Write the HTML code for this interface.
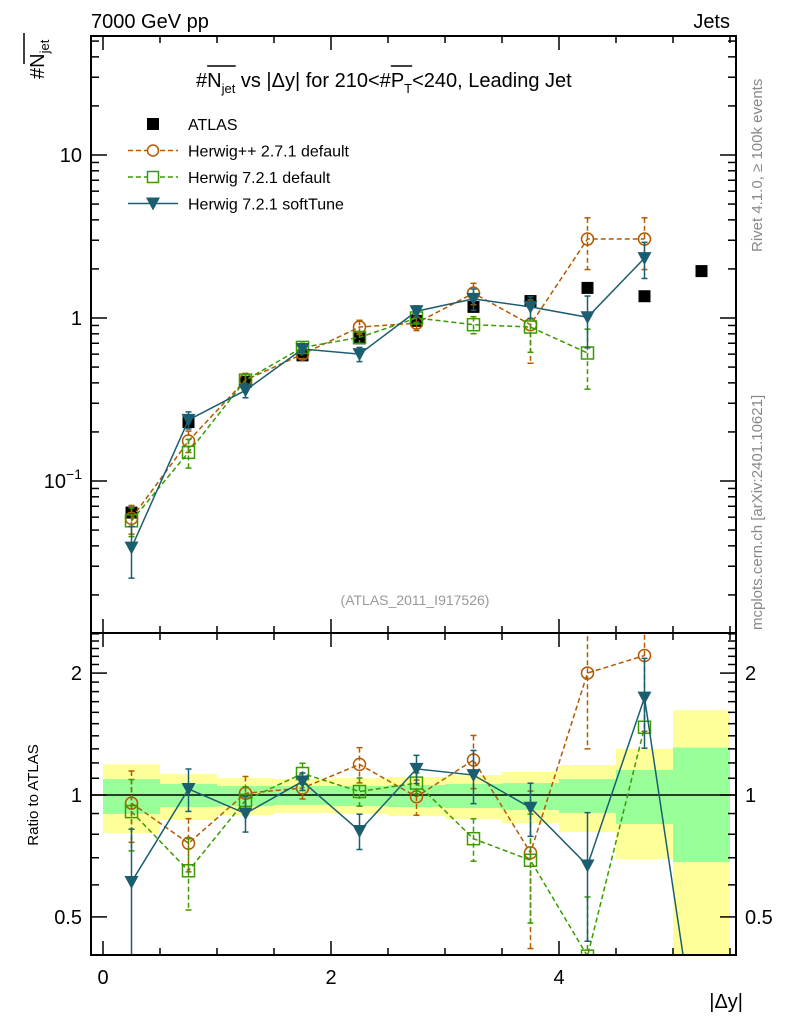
<!DOCTYPE html>
<html><head><meta charset="utf-8"><style>
html,body{margin:0;background:#fff;width:786px;height:1024px;overflow:hidden}
svg{display:block;font-family:"Liberation Sans",sans-serif}
</style></head><body>
<svg id="c" width="786" height="1024" xmlns="http://www.w3.org/2000/svg"></svg>
<script>
const xCenters=[0.25,0.75,1.25,1.75,2.25,2.75,3.25,3.75,4.25,4.75,5.25];
const atlasVals=[0.064,0.23,0.405,0.59,0.75,0.96,1.17,1.27,1.53,1.36,1.94];
const hppVals=[0.059,0.176,0.416,0.60,0.88,0.93,1.42,0.91,3.05,3.05];
const hppErr=[0.2,0.15,0.1,0.06,0.1,0.1,0.15,0.42,0.35,0.35];
const h7Vals=[0.057,0.15,0.416,0.66,0.76,1.0,0.91,0.88,0.61];
const h7Err=[0.2,0.2,0.08,0.06,0.08,0.06,0.12,0.3,0.4];
const stVals=[0.039,0.237,0.36,0.645,0.60,1.10,1.31,1.17,1.01,2.33];
const stErr=[0.35,0.12,0.1,0.05,0.1,0.08,0.15,0.15,0.35,0.25];
const hppRatio=[0.955,0.76,1.01,1.04,1.19,0.99,1.22,0.72,2.0,2.21];
const h7Ratio=[0.91,0.65,0.97,1.13,1.02,1.07,0.78,0.69,0.40,1.47];
const stRatio=[0.61,1.035,0.90,1.08,0.815,1.16,1.12,0.93,0.67,1.74,0.2];
const bandYelLo=[0.806,0.868,0.892,0.903,0.898,0.887,0.872,0.853,0.81,0.695,0.3];
const bandYelHi=[1.19,1.127,1.101,1.095,1.101,1.108,1.12,1.14,1.186,1.30,1.62];
const bandGrnLo=[0.898,0.934,0.939,0.945,0.939,0.934,0.929,0.918,0.903,0.848,0.683];
const bandGrnHi=[1.095,1.065,1.052,1.052,1.052,1.058,1.065,1.07,1.095,1.153,1.31];
const ratioTicks=["0.5","1","2"];
const xTicks=["0","2","4"];

const NS="http://www.w3.org/2000/svg";
const svg=document.getElementById('c');
const L=91,R=736,T=36,M=633,B=955;
const X=v=>103+v*114;
const Ym=v=>318-Math.log10(v)*163;
const Yr=v=>795-Math.log10(v)*405;
function mk(tag,at,parent){const e=document.createElementNS(NS,tag);for(const k in at)e.setAttribute(k,at[k]);(parent||svg).appendChild(e);return e;}
function txt(s,x,y,at,parent){const e=mk('text',Object.assign({x:x,y:y,'font-size':20},at||{}),parent);e.textContent=s;return e;}

const defs=mk('defs',{});
const c1=mk('clipPath',{id:'cm'},defs);mk('rect',{x:L,y:T,width:R-L,height:M-T},c1);
const c2=mk('clipPath',{id:'cr'},defs);mk('rect',{x:L,y:M,width:R-L,height:B-M},c2);
const gM=mk('g',{'clip-path':'url(#cm)'});
const gR=mk('g',{'clip-path':'url(#cr)'});

for(let i=0;i<xCenters.length;i++){
 const x0=X(xCenters[i]-0.25),x1=X(xCenters[i]+0.25);
 const y=mk('rect',{x:x0,y:Yr(bandYelHi[i]),width:x1-x0,height:Yr(bandYelLo[i])-Yr(bandYelHi[i]),fill:'#ffff99'},gR);
 
 const g=mk('rect',{x:x0,y:Yr(bandGrnHi[i]),width:x1-x0,height:Yr(bandGrnLo[i])-Yr(bandGrnHi[i]),fill:'#99ff99'},gR);
 
}
mk('line',{x1:L,x2:R,y1:Yr(1),y2:Yr(1),stroke:'#000','stroke-width':1.5},gR);

function series(vals,err,Y,g,color,dash,marker,name){
 const pts=vals.map((v,i)=>[X(xCenters[i]),Y(v)]);
 const pl=mk('polyline',{points:pts.map(p=>p.join(',')).join(' '),fill:'none',stroke:color,'stroke-width':1.5,'stroke-dasharray':dash},g);
 
 vals.forEach((v,i)=>{
  const x=pts[i][0],y=pts[i][1];
  if(err&&err[i]!==undefined){
   const e=err[i],yh=Y(v*(1+e)),yl=Y(v*(1-e));
   const el=mk('line',{x1:x,x2:x,y1:yh,y2:yl,stroke:color,'stroke-width':1.5,'stroke-dasharray':dash},g);
   
   mk('line',{x1:x-3,x2:x+3,y1:yh,y2:yh,stroke:color,'stroke-width':1.5},g);
   mk('line',{x1:x-3,x2:x+3,y1:yl,y2:yl,stroke:color,'stroke-width':1.5},g);
  }
  let m;
  if(marker==='o')m=mk('circle',{cx:x,cy:y,r:6,fill:'none',stroke:color,'stroke-width':1.5},g);
  else if(marker==='s')m=mk('rect',{x:x-6,y:y-6,width:12,height:12,fill:'none',stroke:color,'stroke-width':1.5},g);
  else m=mk('polygon',{points:`${x-7},${y-6} ${x+7},${y-6} ${x},${y+7}`,fill:color},g);
  
 });
}
atlasVals.forEach((v,i)=>{const r=mk('rect',{x:X(xCenters[i])-6,y:Ym(v)-6,width:12,height:12,fill:'#000'},gM);
 });
const cO='#b35a00',cG='#3a9a00',cB='#1b5e70';
series(hppVals,hppErr,Ym,gM,cO,'5,3','o','herwigpp-271');
series(h7Vals,h7Err,Ym,gM,cG,'5,3','s','herwig-721-default');
series(stVals,stErr,Ym,gM,cB,'none','t','herwig-721-softtune');
series(hppRatio,hppErr,Yr,gR,cO,'5,3','o','ratio-herwigpp-271');
series(h7Ratio,h7Err,Yr,gR,cG,'5,3','s','ratio-herwig-721-default');
series(stRatio,stErr.concat([0]),Yr,gR,cB,'none','t','ratio-herwig-721-softtune');

mk('rect',{x:L,y:T,width:R-L,height:M-T,fill:'none',stroke:'#000','stroke-width':2});
mk('rect',{x:L,y:M,width:R-L,height:B-M,fill:'none',stroke:'#000','stroke-width':2});
for(let k=0;k<=11;k++){const v=k*0.5,x=X(v),big=(k%4===0);const l=big?14:7;
 [[T,T+l],[M,M-l],[M,M+l],[B,B-l]].forEach(a=>mk('line',{x1:x,x2:x,y1:a[0],y2:a[1],stroke:'#000','stroke-width':1.5}));}
xTicks.forEach((s,i)=>{const t=txt(s,X(i*2),984,{'text-anchor':'middle'});});
for(let d=-2;d<=1;d++)for(let m=1;m<=9;m++){const v=m*Math.pow(10,d),y=Ym(v);if(y<T||y>M)continue;const l=m===1?16:8;
 mk('line',{x1:L,x2:L+l,y1:y,y2:y,stroke:'#000','stroke-width':1.5});mk('line',{x1:R,x2:R-l,y1:y,y2:y,stroke:'#000','stroke-width':1.5});}
let t=txt('',82,Ym(0.1)+7,{'text-anchor':'end'});t.innerHTML='10<tspan font-size="14" dy="-9">\u22121</tspan>';
t=txt('1',82,Ym(1)+7,{'text-anchor':'end'});
t=txt('10',82,Ym(10)+7,{'text-anchor':'end'});
for(let k=4;k<=25;k++){const v=k/10,y=Yr(v);if(y<M||y>B)continue;const l=(k===5||k===10||k===20)?16:8;
 mk('line',{x1:L,x2:L+l,y1:y,y2:y,stroke:'#000','stroke-width':1.5});mk('line',{x1:R,x2:R-l,y1:y,y2:y,stroke:'#000','stroke-width':1.5});}
ratioTicks.forEach(s=>{const v=parseFloat(s);
 const a=txt(s,82,Yr(v)+7,{'text-anchor':'end'});
 const b=txt(s,745,Yr(v)+7);});

t=txt('7000 GeV pp',91,28);
t=txt('Jets',730,28,{'text-anchor':'end'});
t=txt('|\u0394y|',743,1008,{'text-anchor':'end'});
t=txt('Ratio to ATLAS',0,0,{'font-size':15,'text-anchor':'middle',transform:'translate(38,795) rotate(-90)'});
t=txt('',0,0,{transform:'translate(44,79) rotate(-90)'});t.innerHTML='#N<tspan font-size="13" dy="5">jet</tspan>';

mk('line',{x1:24,x2:24,y1:33,y2:64,stroke:'#000','stroke-width':1.5});
t=txt('',196,87);t.innerHTML='#<tspan id="nb">N</tspan><tspan id="nj" font-size="13" dy="6">jet</tspan><tspan dy="-6"> vs |\u0394y| for 210&lt;#</tspan><tspan id="pb">P</tspan><tspan id="pt" font-size="13" dy="6">T</tspan><tspan dy="-6">&lt;240, Leading Jet</tspan>';

try{
 const a=document.getElementById('nb').getBBox(),b=document.getElementById('nj').getBBox();
 mk('line',{x1:a.x,x2:b.x+b.width,y1:66,y2:66,stroke:'#000','stroke-width':1.5});
 const c=document.getElementById('pb').getBBox(),d=document.getElementById('pt').getBBox();
 mk('line',{x1:c.x,x2:d.x+d.width,y1:66,y2:66,stroke:'#000','stroke-width':1.5});
}catch(e){}
t=txt('Rivet 4.1.0, \u2265 100k events',0,0,{'font-size':15,fill:'#888',transform:'translate(762,252) rotate(-90)'});
t=txt('mcplots.cern.ch [arXiv:2401.10621]',0,0,{'font-size':15,fill:'#888',transform:'translate(762,630) rotate(-90)'});
t=txt('(ATLAS_2011_I917526)',415,605,{'font-size':14,fill:'#999','text-anchor':'middle'});

const leg=[['ATLAS','#000','none','a'],['Herwig++ 2.7.1 default',cO,'5,3','o'],['Herwig 7.2.1 default',cG,'5,3','s'],['Herwig 7.2.1 softTune',cB,'none','t']];
leg.forEach((e,i)=>{const y=124+i*26.5,x=153;
 const g=mk('g',{});
 if(e[3]==='a')mk('rect',{x:x-6,y:y-6,width:12,height:12,fill:'#000'},g);
 else{mk('line',{x1:128,x2:178,y1:y,y2:y,stroke:e[1],'stroke-width':1.5,'stroke-dasharray':e[2]},g);
  if(e[3]==='o')mk('circle',{cx:x,cy:y,r:5.5,fill:'#fff',stroke:e[1],'stroke-width':1.5},g);
  else if(e[3]==='s')mk('rect',{x:x-5.5,y:y-5.5,width:11,height:11,fill:'#fff',stroke:e[1],'stroke-width':1.5},g);
  else mk('polygon',{points:`${x-7},${y-6} ${x+7},${y-6} ${x},${y+7}`,fill:e[1]},g);}
 txt(e[0],188,y+6,{'font-size':16},g);
});
</script>
</body></html>
